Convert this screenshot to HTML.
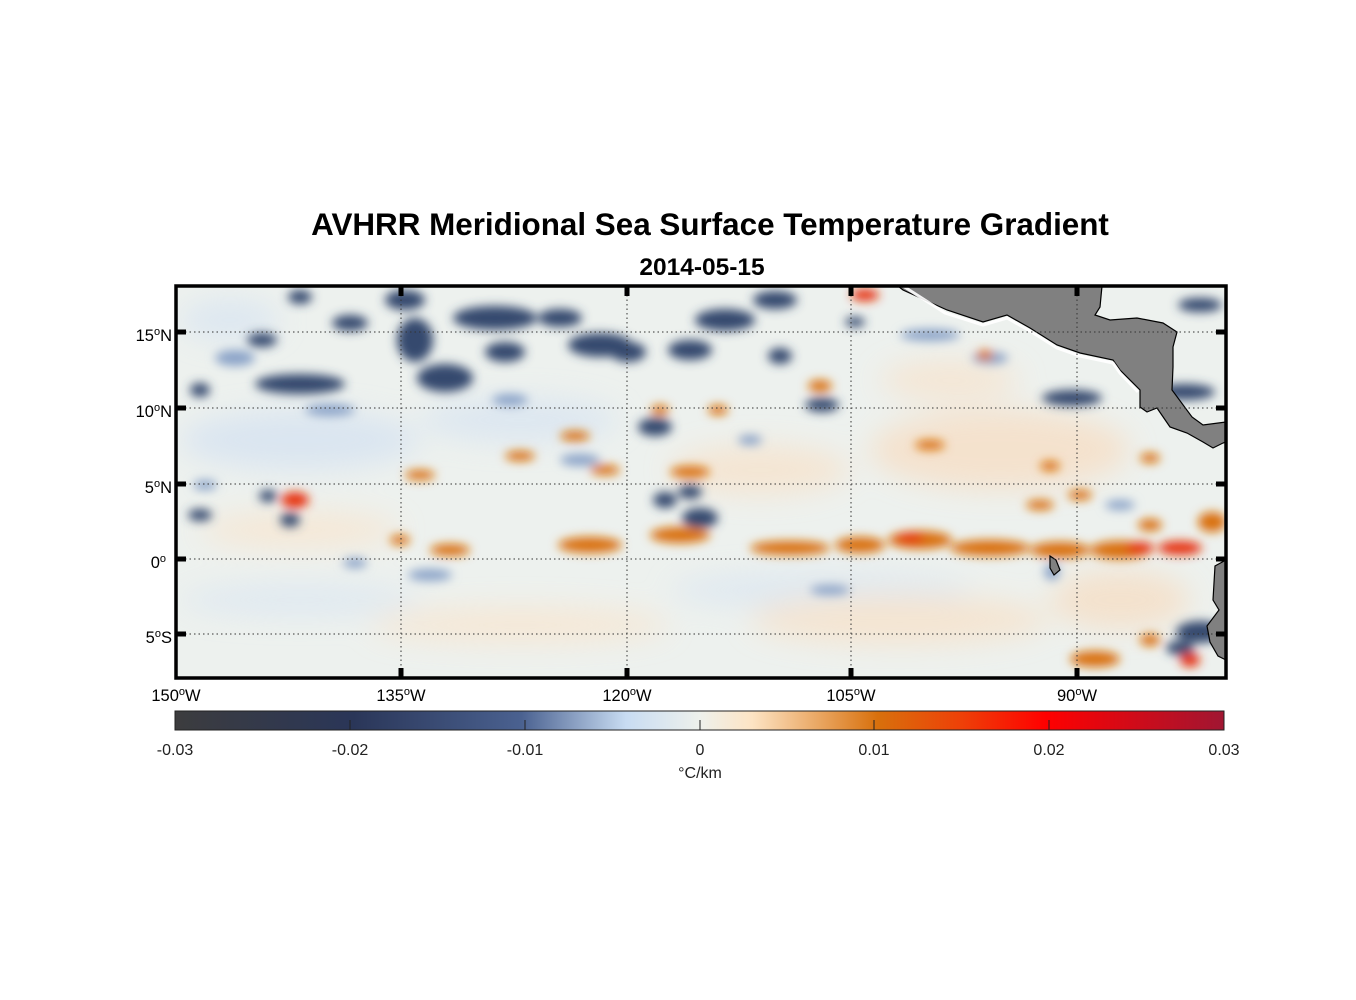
<!DOCTYPE html>
<html><head><meta charset="utf-8"><style>
html,body{margin:0;padding:0;background:#fff;}
svg{display:block;font-family:"Liberation Sans",Arial,sans-serif;}
</style></head><body>
<svg width="1356" height="1000" viewBox="0 0 1356 1000">
<defs>
<clipPath id="c"><rect x="176" y="286" width="1050" height="392"/></clipPath>
<filter id="b" x="-50%" y="-50%" width="200%" height="200%"><feGaussianBlur stdDeviation="5"/></filter>
<filter id="b2" x="-50%" y="-50%" width="200%" height="200%"><feGaussianBlur stdDeviation="14"/></filter>
<linearGradient id="cb" x1="0" x2="1" y1="0" y2="0">
<stop offset="0" stop-color="#3c3c3e"/>
<stop offset="0.17" stop-color="#2a3658"/>
<stop offset="0.33" stop-color="#4a6190"/>
<stop offset="0.43" stop-color="#c8dcf2"/>
<stop offset="0.5" stop-color="#eef1ec"/>
<stop offset="0.55" stop-color="#fde4c4"/>
<stop offset="0.67" stop-color="#d8700c"/>
<stop offset="0.75" stop-color="#ee4008"/>
<stop offset="0.83" stop-color="#ff0000"/>
<stop offset="1" stop-color="#a01632"/>
</linearGradient>
</defs>
<text x="710" y="235" text-anchor="middle" font-size="31.4" font-weight="bold">AVHRR Meridional Sea Surface Temperature Gradient</text>
<text x="702" y="275" text-anchor="middle" font-size="24.5" font-weight="bold">2014-05-15</text>
<g clip-path="url(#c)">
<rect x="176" y="286" width="1050" height="392" fill="#edf1ee"/>
<g filter="url(#b2)" opacity="0.7">
<ellipse cx="300" cy="440" rx="120" ry="30" fill="#d3e1f2"/>
<ellipse cx="520" cy="420" rx="100" ry="22" fill="#d6e3f2"/>
<ellipse cx="820" cy="590" rx="150" ry="18" fill="#d9e5f2"/>
<ellipse cx="300" cy="600" rx="120" ry="15" fill="#d9e5f2"/>
<ellipse cx="1000" cy="450" rx="130" ry="40" fill="#f8dcc0"/>
<ellipse cx="900" cy="620" rx="150" ry="25" fill="#f8e0c6"/>
<ellipse cx="520" cy="625" rx="150" ry="18" fill="#f9e4cc"/>
<ellipse cx="300" cy="530" rx="100" ry="18" fill="#f9e4cc"/>
<ellipse cx="760" cy="470" rx="90" ry="25" fill="#f8e1c8"/>
<ellipse cx="950" cy="380" rx="70" ry="20" fill="#f8e2ca"/>
<ellipse cx="1120" cy="600" rx="70" ry="30" fill="#f7dcc0"/>
<ellipse cx="230" cy="320" rx="50" ry="20" fill="#d6e3f2"/>
</g>
<g filter="url(#b)">
<g fill="#34496e">
<ellipse cx="300" cy="384" rx="45" ry="10"/>
<ellipse cx="350" cy="323" rx="18" ry="8"/>
<ellipse cx="262" cy="340" rx="15" ry="7"/>
<ellipse cx="300" cy="297" rx="12" ry="7"/>
<ellipse cx="405" cy="300" rx="20" ry="10"/>
<ellipse cx="415" cy="340" rx="18" ry="22"/>
<ellipse cx="445" cy="378" rx="28" ry="14"/>
<ellipse cx="495" cy="318" rx="42" ry="12"/>
<ellipse cx="505" cy="352" rx="20" ry="10"/>
<ellipse cx="600" cy="345" rx="32" ry="12"/>
<ellipse cx="628" cy="352" rx="18" ry="10"/>
<ellipse cx="560" cy="318" rx="22" ry="9"/>
<ellipse cx="690" cy="350" rx="22" ry="10"/>
<ellipse cx="725" cy="320" rx="30" ry="11"/>
<ellipse cx="775" cy="300" rx="22" ry="9"/>
<ellipse cx="780" cy="356" rx="12" ry="8"/>
<ellipse cx="822" cy="405" rx="17" ry="7"/>
<ellipse cx="855" cy="322" rx="10" ry="5"/>
<ellipse cx="1072" cy="398" rx="30" ry="8"/>
<ellipse cx="1185" cy="392" rx="30" ry="8"/>
<ellipse cx="1200" cy="305" rx="22" ry="7"/>
<ellipse cx="655" cy="427" rx="17" ry="9"/>
<ellipse cx="665" cy="500" rx="12" ry="8"/>
<ellipse cx="700" cy="518" rx="18" ry="10"/>
<ellipse cx="690" cy="492" rx="12" ry="7"/>
<ellipse cx="268" cy="496" rx="9" ry="6"/>
<ellipse cx="290" cy="520" rx="10" ry="7"/>
<ellipse cx="1200" cy="632" rx="24" ry="11"/>
<ellipse cx="1180" cy="648" rx="14" ry="7"/>
<ellipse cx="200" cy="390" rx="10" ry="7"/>
<ellipse cx="200" cy="515" rx="12" ry="6"/>
</g>
<g fill="#8aa3c8">
<ellipse cx="235" cy="358" rx="20" ry="8"/>
<ellipse cx="205" cy="485" rx="12" ry="5"/>
<ellipse cx="430" cy="575" rx="22" ry="6"/>
<ellipse cx="355" cy="563" rx="12" ry="5"/>
<ellipse cx="1052" cy="572" rx="8" ry="8"/>
<ellipse cx="580" cy="460" rx="20" ry="6"/>
<ellipse cx="930" cy="335" rx="30" ry="6"/>
<ellipse cx="990" cy="358" rx="18" ry="6"/>
<ellipse cx="830" cy="590" rx="20" ry="5"/>
<ellipse cx="510" cy="400" rx="18" ry="6"/>
<ellipse cx="330" cy="410" rx="25" ry="6"/>
<ellipse cx="750" cy="440" rx="12" ry="5"/>
<ellipse cx="1120" cy="505" rx="15" ry="5"/>
</g>
<g fill="#d96f10">
<ellipse cx="450" cy="550" rx="20" ry="6"/>
<ellipse cx="590" cy="545" rx="32" ry="8"/>
<ellipse cx="680" cy="535" rx="30" ry="8"/>
<ellipse cx="790" cy="548" rx="40" ry="7"/>
<ellipse cx="860" cy="545" rx="25" ry="8"/>
<ellipse cx="920" cy="540" rx="32" ry="9"/>
<ellipse cx="990" cy="548" rx="40" ry="8"/>
<ellipse cx="1060" cy="550" rx="30" ry="8"/>
<ellipse cx="1120" cy="550" rx="30" ry="9"/>
<ellipse cx="1212" cy="522" rx="14" ry="10"/>
<ellipse cx="690" cy="472" rx="20" ry="6"/>
<ellipse cx="660" cy="410" rx="9" ry="5"/>
<ellipse cx="718" cy="410" rx="10" ry="5"/>
<ellipse cx="820" cy="386" rx="12" ry="6"/>
<ellipse cx="985" cy="355" rx="8" ry="5"/>
<ellipse cx="1050" cy="466" rx="10" ry="5"/>
<ellipse cx="1080" cy="495" rx="12" ry="5"/>
<ellipse cx="1150" cy="458" rx="10" ry="5"/>
<ellipse cx="1095" cy="659" rx="25" ry="8"/>
<ellipse cx="1150" cy="640" rx="10" ry="6"/>
<ellipse cx="605" cy="470" rx="15" ry="5"/>
<ellipse cx="420" cy="475" rx="15" ry="5"/>
<ellipse cx="520" cy="456" rx="15" ry="5"/>
<ellipse cx="575" cy="436" rx="15" ry="5"/>
<ellipse cx="400" cy="540" rx="10" ry="5"/>
<ellipse cx="930" cy="445" rx="15" ry="5"/>
<ellipse cx="1150" cy="525" rx="12" ry="6"/>
<ellipse cx="1040" cy="505" rx="14" ry="5"/>
</g>
<g fill="#e63010">
<ellipse cx="295" cy="500" rx="14" ry="8"/>
<ellipse cx="1180" cy="548" rx="22" ry="7"/>
<ellipse cx="1140" cy="548" rx="14" ry="6"/>
<ellipse cx="865" cy="295" rx="14" ry="6"/>
<ellipse cx="1190" cy="660" rx="10" ry="7"/>
<ellipse cx="910" cy="538" rx="14" ry="5"/>
</g>
</g>
<g fill="#808080" stroke="#000" stroke-width="1.2">
<path d="M898,286 L903,290 L947,310 L983,322 L1007,315 L1030,328 L1057,345 L1080,353 L1113,360 L1120,370 L1140,390 L1140,407 L1147,412 L1157,408 L1170,427 L1187,433 L1203,442 L1213,448 L1223,443 L1226,442 L1226,422 L1203,425 L1192,417 L1172,390 L1173,367 L1173,347 L1177,332 L1163,323 L1137,318 L1110,320 L1095,315 L1100,307 L1102,286 Z"/>
<path d="M1226,560 L1215,566 L1213,600 L1219,610 L1207,626 L1210,642 L1218,656 L1226,660 Z"/>
<path d="M1050,556 L1056,560 L1060,570 L1054,575 L1050,568 Z"/>
</g>
<g stroke="#fff" stroke-width="3" fill="none" opacity="0.9">
<path d="M900,284 L945,313 L983,325 L1007,318 L1030,331 L1057,348 L1080,356 L1113,363 L1120,373 L1138,392"/>
</g>
</g>
<g stroke="#333" stroke-width="1" stroke-dasharray="1.5,3">
<line x1="401" y1="286" x2="401" y2="678"/>
<line x1="627" y1="286" x2="627" y2="678"/>
<line x1="851" y1="286" x2="851" y2="678"/>
<line x1="1077" y1="286" x2="1077" y2="678"/>
<line x1="176" y1="332" x2="1226" y2="332"/>
<line x1="176" y1="408" x2="1226" y2="408"/>
<line x1="176" y1="484" x2="1226" y2="484"/>
<line x1="176" y1="559" x2="1226" y2="559"/>
<line x1="176" y1="634" x2="1226" y2="634"/>
</g>
<rect x="176" y="286" width="1050" height="392" fill="none" stroke="#000" stroke-width="3.5"/>
<g stroke="#000" stroke-width="5">
<line x1="401" y1="286" x2="401" y2="296"/><line x1="627" y1="286" x2="627" y2="296"/><line x1="851" y1="286" x2="851" y2="296"/><line x1="1077" y1="286" x2="1077" y2="296"/>
<line x1="401" y1="678" x2="401" y2="668"/><line x1="627" y1="678" x2="627" y2="668"/><line x1="851" y1="678" x2="851" y2="668"/><line x1="1077" y1="678" x2="1077" y2="668"/>
<line x1="176" y1="332" x2="186" y2="332"/><line x1="176" y1="408" x2="186" y2="408"/><line x1="176" y1="484" x2="186" y2="484"/><line x1="176" y1="559" x2="186" y2="559"/><line x1="176" y1="634" x2="186" y2="634"/>
<line x1="1226" y1="332" x2="1216" y2="332"/><line x1="1226" y1="408" x2="1216" y2="408"/><line x1="1226" y1="484" x2="1216" y2="484"/><line x1="1226" y1="559" x2="1216" y2="559"/><line x1="1226" y1="634" x2="1216" y2="634"/>
</g>
<g font-size="16.5" fill="#000" text-anchor="end">
<text x="172" y="341">15<tspan dy="-6" font-size="11">o</tspan><tspan dy="6">N</tspan></text>
<text x="172" y="417">10<tspan dy="-6" font-size="11">o</tspan><tspan dy="6">N</tspan></text>
<text x="172" y="493">5<tspan dy="-6" font-size="11">o</tspan><tspan dy="6">N</tspan></text>
<text x="166" y="568">0<tspan dy="-6" font-size="11">o</tspan></text>
<text x="172" y="643">5<tspan dy="-6" font-size="11">o</tspan><tspan dy="6">S</tspan></text>
</g>
<g font-size="16.5" fill="#000" text-anchor="middle">
<text x="176" y="701">150<tspan dy="-6" font-size="11">o</tspan><tspan dy="6">W</tspan></text>
<text x="401" y="701">135<tspan dy="-6" font-size="11">o</tspan><tspan dy="6">W</tspan></text>
<text x="627" y="701">120<tspan dy="-6" font-size="11">o</tspan><tspan dy="6">W</tspan></text>
<text x="851" y="701">105<tspan dy="-6" font-size="11">o</tspan><tspan dy="6">W</tspan></text>
<text x="1077" y="701">90<tspan dy="-6" font-size="11">o</tspan><tspan dy="6">W</tspan></text>
</g>
<rect x="175" y="711" width="1049" height="19" fill="url(#cb)" stroke="#222" stroke-width="1"/>
<g stroke="#222" stroke-width="1">
<line x1="350" y1="720" x2="350" y2="730"/><line x1="525" y1="720" x2="525" y2="730"/><line x1="700" y1="720" x2="700" y2="730"/><line x1="874" y1="720" x2="874" y2="730"/><line x1="1049" y1="720" x2="1049" y2="730"/>
</g>
<g font-size="16" fill="#222" text-anchor="middle">
<text x="175" y="755">-0.03</text><text x="350" y="755">-0.02</text><text x="525" y="755">-0.01</text><text x="700" y="755">0</text><text x="874" y="755">0.01</text><text x="1049" y="755">0.02</text><text x="1224" y="755">0.03</text>
<text x="700" y="778">°C/km</text>
</g>
</svg>
</body></html>
